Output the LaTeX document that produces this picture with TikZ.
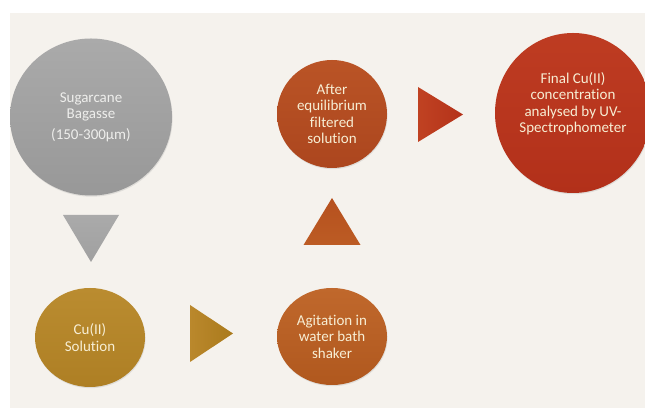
\documentclass[tikz,border=0pt]{standalone}
\usepackage{fontspec}
\setmainfont{Carlito}[Ligatures=NoCommon]
\usetikzlibrary{shapes.geometric,calc,shadows}

\definecolor{paper}{RGB}{245,242,237}
\definecolor{cream}{RGB}{247,238,212}
\definecolor{palegray}{RGB}{238,238,236}
\tikzset{
  stage/.style={ellipse, inner sep=0, outer sep=0, align=center, text=cream,
    font=\fontsize{15}{16.5}\selectfont,
    drop shadow={opacity=0.18, shadow xshift=0.6pt, shadow yshift=-1.2pt}},
}

\begin{document}
\begin{tikzpicture}[x=1pt,y=1pt]

\useasboundingbox (0,0) rectangle (645,411);
\clip (0,0) rectangle (645,411);
\fill[white] (0,0) rectangle (645,411);
\fill[paper] (10,3) rectangle (645,398);

\node[stage, minimum width=162, minimum height=157, text=palegray,
  top color={rgb,255:red,170;green,170;blue,170}, bottom color={rgb,255:red,152;green,152;blue,152}]
  (bagasse) at (91,294) {Sugarcane\\Bagasse\\[4pt](150-300µm)};
\node[stage, minimum width=110, minimum height=99,
  top color={rgb,255:red,186;green,140;blue,48}, bottom color={rgb,255:red,174;green,127;blue,36}]
  (cu) at (90,73.5) {Cu(II)\\Solution};
\node[stage, minimum width=110, minimum height=97,
  top color={rgb,255:red,192;green,104;blue,44}, bottom color={rgb,255:red,176;green,88;blue,30}]
  (agit) at (332,74.5) {Agitation in\\water bath\\shaker};
\node[stage, minimum width=110, minimum height=108,
  top color={rgb,255:red,186;green,84;blue,38}, bottom color={rgb,255:red,172;green,70;blue,30}]
  (after) at (332,297) {After\\equilibrium\\filtered\\solution};
\node[stage, minimum width=156, minimum height=160,
  top color={rgb,255:red,190;green,60;blue,34}, bottom color={rgb,255:red,178;green,48;blue,26}]
  (final) at (573,298) {Final Cu(II)\\concentration\\analysed by UV-\\Spectrophometer\\[4pt]};

% arrows between the steps
\path[top color={rgb,255:red,170;green,170;blue,170}, bottom color={rgb,255:red,160;green,160;blue,160}]
  ($(bagasse.south)+(-28,-19.5)$) -- ++(56,0) -- ++(-28,-47) -- cycle;
\path[left color={rgb,255:red,186;green,136;blue,44}, right color={rgb,255:red,170;green,122;blue,28}]
  ($(cu.east)+(45,32.5)$) -- ++(0,-57) -- ++(43,28.5) -- cycle;
\path[top color={rgb,255:red,182;green,80;blue,30}, bottom color={rgb,255:red,188;green,92;blue,36}]
  ($(agit.north)+(-28.5,43)$) -- ++(57,0) -- ++(-28.5,47) -- cycle;
\path[left color={rgb,255:red,192;green,66;blue,34}, right color={rgb,255:red,180;green,50;blue,26}]
  ($(after.east)+(31,27)$) -- ++(0,-55) -- ++(45,27.5) -- cycle;

\end{tikzpicture}
\end{document}
